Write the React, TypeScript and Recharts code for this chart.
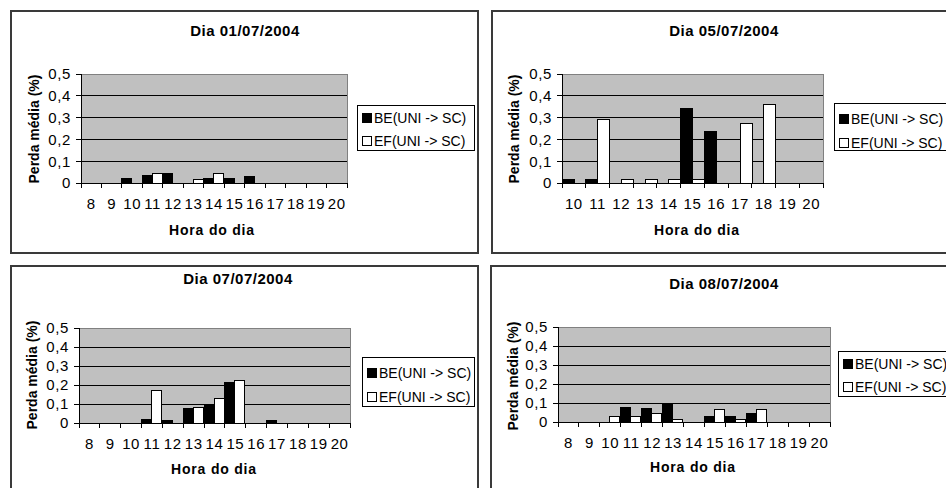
import { BarChart, Bar, XAxis, YAxis, CartesianGrid, ReferenceLine } from "recharts";

const HOURS_FULL = ["8", "9", "10", "11", "12", "13", "14", "15", "16", "17", "18", "19", "20"];
const HOURS_LATE = ["10", "11", "12", "13", "14", "15", "16", "17", "18", "19", "20"];
const Y_TICKS = [0, 0.1, 0.2, 0.3, 0.4, 0.5];

const SERIES_BE = "BE(UNI -> SC)";
const SERIES_EF = "EF(UNI -> SC)";

// Dia 01/07/2004 (8h..20h)
const BE_0107 = [0, 0, 0.02, 0.035, 0.042, 0, 0.02, 0.02, 0.032, 0, 0, 0, 0];
const EF_0107 = [0, 0, 0, 0.042, 0, 0.017, 0.042, 0, 0, 0, 0, 0, 0];
// Dia 05/07/2004 (10h..20h)
const BE_0507 = [0.015, 0.015, 0, 0, 0, 0.34, 0.238, 0, 0, 0, 0];
const EF_0507 = [0, 0.293, 0.015, 0.015, 0.015, 0.015, 0, 0.275, 0.36, 0, 0];
// Dia 07/07/2004
const BE_0707 = [0, 0, 0, 0.02, 0.014, 0.075, 0.1, 0.215, 0, 0.014, 0, 0, 0];
const EF_0707 = [0, 0, 0, 0.172, 0, 0.079, 0.13, 0.225, 0, 0, 0, 0, 0];
// Dia 08/07/2004
const BE_0807 = [0, 0, 0, 0.074, 0.07, 0.09, 0, 0.03, 0.03, 0.044, 0, 0, 0];
const EF_0807 = [0, 0, 0.03, 0.03, 0.044, 0.014, 0, 0.068, 0.014, 0.068, 0, 0, 0];

const FONT = '"Liberation Sans", Arial, sans-serif';
const Y_AXIS_W = 40;
const X_AXIS_H = 30;
const R_AXIS_W = 1;

type Box = { left: number; top: number; width: number; height: number };
type Plot = { x0: number; y0: number; x1: number; y1: number };
type Pt = { x: number; y: number };

type PanelProps = {
  title: string;
  hours: string[];
  be: number[];
  ef: number[];
  box: Box;
  plot: Plot;
  titleAt: Pt;
  yTitleAt: Pt;
  xTitleAt: Pt;
  legend: Box & { rows: [number, number] };
};

const formatY = (v: number) => (v === 0 ? "0" : v.toFixed(1).replace(".", ","));

function makeHourTick(bandWidth: number, last: string) {
  return (props: any) => {
    const { x, y, payload } = props;
    const left = x - bandWidth / 2;
    return (
      <g>
        <line x1={left} y1={y} x2={left} y2={y + 5} stroke="#000" shapeRendering="crispEdges" />
        {payload.value === last && (
          <line
            x1={left + bandWidth}
            y1={y}
            x2={left + bandWidth}
            y2={y + 5}
            stroke="#000"
            shapeRendering="crispEdges"
          />
        )}
        <text
          x={x}
          y={y + 26}
          textAnchor="middle"
          fontSize={15}
          fontFamily={FONT}
          letterSpacing={0.6}
          fill="#000"
        >
          {payload.value}
        </text>
      </g>
    );
  };
}

function Panel({ title, hours, be, ef, box, plot, titleAt, yTitleAt, xTitleAt, legend }: PanelProps) {
  const data = hours.map((h, i) => ({ hour: h, be: be[i], ef: ef[i] }));
  const bandWidth = (plot.x1 - plot.x0) / hours.length;
  const margin = {
    top: plot.y0 - box.top,
    left: plot.x0 - box.left - Y_AXIS_W,
    right: box.left + box.width - plot.x1 - R_AXIS_W,
    bottom: box.top + box.height - plot.y1 - X_AXIS_H,
  };

  return (
    <>
      <div
        style={{
          position: "absolute",
          left: box.left,
          top: box.top,
          width: box.width,
          height: box.height,
          border: "2px solid #3a3a3a",
          boxSizing: "border-box",
          background: "#fff",
        }}
      />
      <div style={{ position: "absolute", left: box.left, top: box.top }}>
        <BarChart
          width={box.width}
          height={box.height}
          data={data}
          margin={margin}
          barCategoryGap={0}
          barGap={0}
        >
          <CartesianGrid
            vertical={false}
            stroke="#000"
            fill="#c0c0c0"
            fillOpacity={1}
            horizontalValues={Y_TICKS}
            shapeRendering="crispEdges"
          />
          <XAxis
            dataKey="hour"
            interval={0}
            height={X_AXIS_H}
            tickSize={0}
            tickMargin={0}
            tickLine={false}
            axisLine={{ stroke: "#000", shapeRendering: "crispEdges" }}
            tick={makeHourTick(bandWidth, hours[hours.length - 1])}
          />
          <YAxis
            domain={[0, 0.5]}
            ticks={Y_TICKS}
            interval={0}
            width={Y_AXIS_W}
            tickSize={5}
            tickMargin={5}
            tickFormatter={formatY}
            axisLine={{ stroke: "#000", shapeRendering: "crispEdges" }}
            tickLine={{ stroke: "#000", shapeRendering: "crispEdges" }}
            tick={{ fill: "#000", fontSize: 15, fontFamily: FONT, letterSpacing: 0.6 }}
          />
          <YAxis
            yAxisId="frame"
            orientation="right"
            domain={[0, 0.5]}
            width={R_AXIS_W}
            tick={false}
            tickLine={false}
            axisLine={{ stroke: "#808080", shapeRendering: "crispEdges" }}
          />
          <ReferenceLine y={0.5} stroke="#808080" shapeRendering="crispEdges" />
          <Bar
            dataKey="be"
            name={SERIES_BE}
            fill="#000"
            stroke="#000"
            strokeWidth={1}
            shapeRendering="crispEdges"
            isAnimationActive={false}
          />
          <Bar
            dataKey="ef"
            name={SERIES_EF}
            fill="#fff"
            stroke="#000"
            strokeWidth={1}
            shapeRendering="crispEdges"
            isAnimationActive={false}
          />
        </BarChart>
      </div>

      <div
        style={{
          position: "absolute",
          left: titleAt.x - 150,
          top: titleAt.y - 9,
          width: 300,
          lineHeight: "18px",
          textAlign: "center",
          fontFamily: FONT,
          fontWeight: "bold",
          fontSize: 15,
          letterSpacing: 0.5,
        }}
      >
        {title}
      </div>
      <div
        style={{
          position: "absolute",
          left: yTitleAt.x - 100,
          top: yTitleAt.y - 9,
          width: 200,
          lineHeight: "18px",
          textAlign: "center",
          fontFamily: FONT,
          fontWeight: "bold",
          fontSize: 14,
          transform: "rotate(-90deg)",
        }}
      >
        Perda média (%)
      </div>
      <div
        style={{
          position: "absolute",
          left: xTitleAt.x - 100,
          top: xTitleAt.y - 9,
          width: 200,
          lineHeight: "18px",
          textAlign: "center",
          fontFamily: FONT,
          fontWeight: "bold",
          fontSize: 14,
          letterSpacing: 0.8,
        }}
      >
        Hora do dia
      </div>

      <div
        style={{
          position: "absolute",
          left: legend.left,
          top: legend.top,
          width: legend.width,
          height: legend.height,
          border: "1px solid #000",
          boxSizing: "border-box",
          background: "#fff",
          fontFamily: FONT,
          fontSize: 14,
        }}
      >
        {[
          { name: SERIES_BE, color: "#000" },
          { name: SERIES_EF, color: "#fff" },
        ].map((item, i) => (
          <div
            key={item.name}
            style={{
              position: "absolute",
              left: 4,
              top: legend.rows[i] - 9,
              height: 18,
              display: "flex",
              alignItems: "center",
              whiteSpace: "nowrap",
            }}
          >
            <span
              style={{
                display: "inline-block",
                width: 8,
                height: 8,
                background: item.color,
                border: "1px solid #000",
                marginRight: 2,
              }}
            />
            <span>{item.name}</span>
          </div>
        ))}
      </div>
    </>
  );
}

export default function App() {
  return (
    <div
      style={{
        position: "absolute",
        left: 0,
        top: 0,
        width: 946,
        height: 488,
        overflow: "hidden",
        background: "#fff",
      }}
    >
      <Panel
        title="Dia 01/07/2004"
        hours={HOURS_FULL}
        be={BE_0107}
        ef={EF_0107}
        box={{ left: 10, top: 10, width: 469, height: 244 }}
        plot={{ x0: 81, y0: 74, x1: 347, y1: 183 }}
        titleAt={{ x: 245, y: 31 }}
        yTitleAt={{ x: 34, y: 129 }}
        xTitleAt={{ x: 212, y: 230 }}
        legend={{ left: 357, top: 105, width: 118, height: 46, rows: [12, 35] }}
      />
      <Panel
        title="Dia 05/07/2004"
        hours={HOURS_LATE}
        be={BE_0507}
        ef={EF_0507}
        box={{ left: 491, top: 10, width: 469, height: 244 }}
        plot={{ x0: 562, y0: 74, x1: 823, y1: 183 }}
        titleAt={{ x: 724, y: 31 }}
        yTitleAt={{ x: 514, y: 129 }}
        xTitleAt={{ x: 697, y: 230 }}
        legend={{ left: 834, top: 103, width: 120, height: 48, rows: [15, 39] }}
      />
      <Panel
        title="Dia 07/07/2004"
        hours={HOURS_FULL}
        be={BE_0707}
        ef={EF_0707}
        box={{ left: 10, top: 265, width: 469, height: 240 }}
        plot={{ x0: 79, y0: 328, x1: 350, y1: 423 }}
        titleAt={{ x: 238, y: 279 }}
        yTitleAt={{ x: 32, y: 375 }}
        xTitleAt={{ x: 214, y: 469 }}
        legend={{ left: 362, top: 357, width: 113, height: 50, rows: [15, 39] }}
      />
      <Panel
        title="Dia 08/07/2004"
        hours={HOURS_FULL}
        be={BE_0807}
        ef={EF_0807}
        box={{ left: 490, top: 265, width: 469, height: 240 }}
        plot={{ x0: 558, y0: 327, x1: 830, y1: 422 }}
        titleAt={{ x: 724, y: 284 }}
        yTitleAt={{ x: 513, y: 376 }}
        xTitleAt={{ x: 693, y: 467 }}
        legend={{ left: 838, top: 351, width: 120, height: 46, rows: [12, 35] }}
      />
    </div>
  );
}
